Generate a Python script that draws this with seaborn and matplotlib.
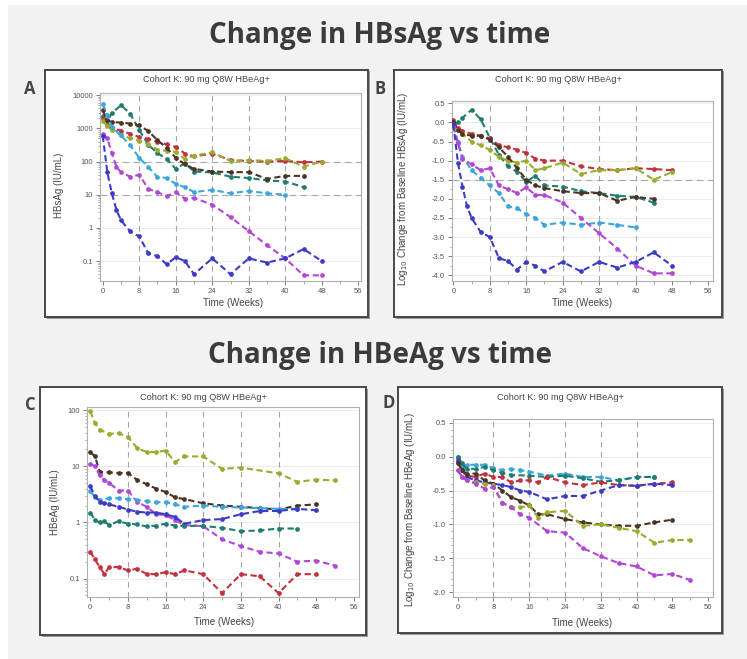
import numpy as np
import pandas as pd
import matplotlib
matplotlib.use("Agg")
import matplotlib.pyplot as plt
import seaborn as sns
from matplotlib.patches import Rectangle
from matplotlib.ticker import FixedLocator, MultipleLocator, LogLocator, NullFormatter

# ---------------- data ----------------
WEEK_TICKS = [0, 8, 16, 24, 32, 40, 48, 56]
REF_WEEKS = [8, 16, 24, 32, 40]
PANEL_TITLE = "Cohort K: 90 mg Q8W HBeAg+"

COLORS = {
    "teal": "#1e7d6c", "red": "#c2313d", "olive": "#9aab2e", "brown": "#4b3424",
    "cyan": "#3ba6dc", "magenta": "#b246d6", "blue": "#3b3bc6",
}

# Panel A: HBsAg (IU/mL)
A_TEAL_W = [0, 1, 2, 4, 6, 8, 10, 12, 14, 16, 18, 20, 24, 28, 32, 36, 40, 44]
A_TEAL = [2300, 1700, 2900, 5000, 2800, 900, 320, 180, 120, 60, 90, 50, 47, 35, 32, 27, 25, 17]
A_RED_W = [0, 1, 2, 4, 6, 8, 10, 12, 14, 16, 18, 20, 24, 28, 32, 36, 40, 44, 48]
A_RED = [2100, 1250, 1000, 860, 690, 550, 490, 390, 330, 275, 175, 144, 175, 110, 104, 100, 105, 95, 100]
A_OLIVE_W = [0, 1, 2, 4, 6, 8, 10, 12, 14, 16, 18, 20, 24, 28, 32, 36, 40, 44, 48]
A_OLIVE = [1700, 1200, 900, 620, 510, 420, 330, 230, 210, 195, 120, 150, 190, 105, 110, 105, 125, 70, 100]
A_BROWN_W = [0, 1, 2, 4, 6, 8, 10, 12, 14, 16, 18, 20, 24, 28, 32, 36, 40, 44]
A_BROWN = [3500, 1750, 1550, 1500, 1400, 1240, 830, 440, 260, 130, 83, 60, 50, 48, 48, 30, 37, 37]
A_CYAN_W = [0, 1, 2, 4, 6, 8, 10, 12, 14, 16, 18, 20, 24, 28, 32, 36, 40]
A_CYAN = [5500, 2500, 1100, 620, 310, 130, 68, 34, 32, 21, 17, 12, 14, 11, 13, 11, 10]
A_MAGENTA_W = [0, 1, 2, 3, 4, 6, 8, 10, 12, 14, 16, 18, 20, 24, 28, 32, 36, 40, 44, 48]
A_MAGENTA = [690, 500, 180, 70, 48, 35, 40, 15, 12, 9, 12, 7.5, 8, 5, 2.1, 0.8, 0.3, 0.12, 0.037, 0.037]
A_BLUE_W = [0, 1, 2, 3, 4, 6, 8, 10, 12, 14, 16, 18, 20, 24, 28, 32, 36, 40, 44, 48]
A_BLUE = [600, 48, 11, 3.5, 1.7, 0.78, 0.55, 0.17, 0.14, 0.08, 0.13, 0.1, 0.04, 0.12, 0.04, 0.12, 0.09, 0.12, 0.23, 0.1]

# Panel B: log10 change from baseline HBsAg
B_TEAL_W = [0, 1, 2, 4, 6, 8, 10, 12, 14, 16, 18, 20, 24, 28, 32, 36, 40, 44]
B_TEAL = [-0.05, 0.0, 0.12, 0.33, 0.08, -0.4, -0.85, -1.15, -1.3, -1.55, -1.4, -1.65, -1.68, -1.8, -1.85, -1.92, -1.95, -2.1]
B_RED_W = [0, 1, 2, 4, 6, 8, 10, 12, 14, 16, 18, 20, 24, 28, 32, 36, 40, 44, 48]
B_RED = [0.05, -0.15, -0.22, -0.3, -0.35, -0.42, -0.6, -0.65, -0.72, -0.8, -0.95, -1.0, -1.0, -1.15, -1.22, -1.25, -1.2, -1.22, -1.25]
B_OLIVE_W = [0, 1, 2, 4, 6, 8, 10, 12, 14, 16, 18, 20, 24, 28, 32, 36, 40, 44, 48]
B_OLIVE = [-0.1, -0.2, -0.3, -0.5, -0.6, -0.72, -0.9, -1.0, -1.05, -1.0, -1.25, -1.2, -1.05, -1.35, -1.25, -1.25, -1.2, -1.5, -1.3]
B_BROWN_W = [0, 1, 2, 4, 6, 8, 10, 12, 14, 16, 18, 20, 24, 28, 32, 36, 40, 44]
B_BROWN = [0.0, -0.2, -0.3, -0.35, -0.35, -0.45, -0.65, -0.9, -1.2, -1.5, -1.65, -1.72, -1.8, -1.85, -1.85, -2.05, -1.95, -2.0]
B_CYAN_W = [0, 1, 2, 4, 6, 8, 10, 12, 14, 16, 18, 20, 24, 28, 32, 36, 40]
B_CYAN = [-0.1, -0.5, -0.9, -1.25, -1.45, -1.65, -1.85, -2.2, -2.25, -2.4, -2.5, -2.68, -2.62, -2.68, -2.62, -2.68, -2.75]
B_MAGENTA_W = [0, 1, 2, 4, 6, 8, 10, 12, 14, 16, 18, 20, 24, 28, 32, 36, 40, 44, 48]
B_MAGENTA = [-0.1, -0.55, -0.95, -1.1, -1.25, -1.2, -1.65, -1.75, -1.85, -1.7, -1.9, -1.9, -2.1, -2.5, -2.9, -3.3, -3.75, -3.95, -3.95]
B_BLUE_W = [0, 1, 2, 3, 4, 6, 8, 10, 12, 14, 16, 18, 20, 24, 28, 32, 36, 40, 44, 48]
B_BLUE = [-0.05, -1.05, -1.68, -2.2, -2.5, -2.87, -3.0, -3.55, -3.63, -3.85, -3.65, -3.75, -3.9, -3.65, -3.9, -3.65, -3.8, -3.65, -3.4, -3.75]

# Panel C: HBeAg (IU/mL)
C_OLIVE_W = [0, 1, 2, 4, 6, 8, 10, 12, 14, 16, 18, 20, 24, 28, 32, 40, 44, 48, 52]
C_OLIVE = [95, 58, 45, 38, 39, 33, 21, 18, 18, 19, 12, 15, 15, 9, 9.5, 7.5, 5.3, 5.8, 5.6]
C_BROWN_W = [0, 1, 2, 4, 6, 8, 10, 12, 14, 16, 18, 20, 24, 28, 32, 36, 40, 44, 48]
C_BROWN = [18, 15, 8, 7.8, 7.6, 7.6, 5.7, 4.8, 4.0, 3.5, 2.8, 2.6, 2.2, 2.0, 1.9, 1.8, 1.7, 2.0, 2.1]
C_MAGENTA_W = [0, 1, 2, 3, 4, 6, 8, 10, 12, 14, 16, 18, 20, 24, 28, 32, 36, 40, 44, 48, 52]
C_MAGENTA = [11, 10, 6.9, 5.6, 5.1, 3.7, 3.7, 2.3, 1.9, 1.4, 1.35, 1.1, 0.9, 0.86, 0.5, 0.38, 0.3, 0.28, 0.2, 0.21, 0.17]
C_CYAN_W = [0, 1, 2, 4, 6, 8, 10, 12, 14, 16, 18, 20, 24, 28, 32, 36, 40, 44]
C_CYAN = [3.7, 2.8, 2.5, 2.7, 2.7, 2.6, 2.5, 2.4, 2.3, 2.3, 2.1, 1.9, 2.0, 1.9, 1.85, 1.8, 1.75, 1.75]
C_BLUE_W = [0, 1, 2, 3, 4, 6, 8, 10, 12, 14, 16, 18, 20, 24, 28, 32, 36, 40, 44, 48]
C_BLUE = [4.4, 3.0, 2.3, 2.2, 2.1, 1.9, 1.7, 1.55, 1.5, 1.5, 1.4, 1.25, 0.95, 1.1, 1.15, 1.4, 1.6, 1.6, 1.75, 1.65]
C_TEAL_W = [0, 1, 2, 3, 4, 6, 8, 10, 12, 14, 16, 18, 20, 24, 28, 32, 36, 40, 44]
C_TEAL = [1.5, 1.1, 1.0, 1.05, 0.9, 1.05, 0.95, 0.92, 0.85, 0.88, 0.95, 0.88, 0.87, 0.87, 0.8, 0.7, 0.72, 0.78, 0.78]
C_RED_W = [0, 1, 2, 3, 4, 6, 8, 10, 12, 14, 16, 18, 20, 24, 28, 32, 36, 40, 44, 48]
C_RED = [0.3, 0.22, 0.16, 0.12, 0.16, 0.16, 0.14, 0.15, 0.12, 0.12, 0.13, 0.12, 0.14, 0.12, 0.055, 0.12, 0.11, 0.055, 0.12, 0.12]

# Panel D: log10 change from baseline HBeAg
D_CYAN_W = [0, 1, 2, 4, 6, 8, 10, 12, 14, 16, 20, 24, 28, 32, 36, 40, 44]
D_CYAN = [0.0, -0.15, -0.12, -0.12, -0.12, -0.17, -0.2, -0.18, -0.2, -0.22, -0.28, -0.25, -0.3, -0.3, -0.35, -0.3, -0.3]
D_TEAL_W = [0, 1, 2, 4, 6, 8, 10, 12, 16, 20, 24, 28, 32, 36, 40, 44]
D_TEAL = [0.0, -0.1, -0.18, -0.18, -0.15, -0.2, -0.24, -0.27, -0.28, -0.3, -0.28, -0.32, -0.37, -0.35, -0.3, -0.3]
D_RED_W = [0, 1, 2, 4, 6, 8, 10, 12, 14, 16, 18, 20, 24, 28, 32, 36, 40, 44, 48]
D_RED = [-0.08, -0.2, -0.28, -0.3, -0.25, -0.3, -0.3, -0.38, -0.35, -0.35, -0.38, -0.3, -0.38, -0.42, -0.38, -0.42, -0.43, -0.4, -0.38]
D_BLUE_W = [0, 1, 2, 4, 6, 8, 10, 12, 14, 16, 20, 24, 28, 32, 36, 40, 44, 48]
D_BLUE = [-0.05, -0.2, -0.3, -0.35, -0.38, -0.4, -0.42, -0.45, -0.5, -0.52, -0.63, -0.58, -0.58, -0.5, -0.42, -0.43, -0.4, -0.42]
D_BROWN_W = [0, 1, 2, 4, 6, 8, 10, 12, 14, 16, 18, 20, 24, 28, 32, 36, 40, 44, 48]
D_BROWN = [-0.1, -0.2, -0.25, -0.25, -0.35, -0.4, -0.5, -0.6, -0.65, -0.72, -0.85, -0.85, -0.92, -0.97, -1.0, -1.02, -1.02, -0.97, -0.93]
D_OLIVE_W = [0, 1, 2, 4, 6, 8, 10, 12, 14, 16, 18, 20, 24, 28, 32, 36, 40, 44, 48, 52]
D_OLIVE = [-0.2, -0.3, -0.35, -0.38, -0.4, -0.42, -0.68, -0.75, -0.75, -0.72, -0.9, -0.82, -0.8, -1.02, -1.0, -1.05, -1.1, -1.27, -1.23, -1.23]
D_MAGENTA_W = [0, 1, 2, 4, 6, 8, 10, 12, 14, 16, 20, 24, 28, 32, 36, 40, 44, 48, 52]
D_MAGENTA = [-0.2, -0.3, -0.35, -0.4, -0.47, -0.45, -0.68, -0.75, -0.85, -0.9, -1.1, -1.12, -1.35, -1.47, -1.57, -1.62, -1.75, -1.73, -1.82]

# ---------------- figure ----------------
sns.set_theme(style="ticks")
plt.rcParams['font.family'] = ['Liberation Sans', 'DejaVu Sans']

W, H = 747, 659
fig = plt.figure(figsize=(W / 100, H / 100), dpi=100)
fig.patch.set_facecolor('white')
fig.patches.append(Rectangle((8 / W, 0), 1, 1 - 5 / H, transform=fig.transFigure,
                             facecolor='#f2f2f2', edgecolor='none', zorder=-10))


def box(x0, y0, x1, y1):
    fig.patches.append(Rectangle((x0 / W + 1.5 / W, 1 - y1 / H - 1.5 / H), (x1 - x0) / W, (y1 - y0) / H,
                                 transform=fig.transFigure, facecolor='#9a9a9a',
                                 edgecolor='none', zorder=-6))
    fig.patches.append(Rectangle((x0 / W, 1 - y1 / H), (x1 - x0) / W, (y1 - y0) / H,
                                 transform=fig.transFigure, facecolor='white',
                                 edgecolor='#474747', lw=1.4, zorder=-5))


def axes_px(l, t, r, b):
    return fig.add_axes([l / W, 1 - b / H, (r - l) / W, (b - t) / H])


def ftext(x, y, s, **kw):
    fig.text(x / W, 1 - y / H, s, **kw)


def draw(ax, series, xlim):
    for wk, val, col in series:
        df = pd.DataFrame({"Week": wk, "Value": val})
        sns.lineplot(data=df, x="Week", y="Value", ax=ax, color=col, marker="o",
                     markersize=3.4, markeredgewidth=0, linestyle=(0, (3.0, 1.7)),
                     lw=1.5, sort=False, zorder=4, legend=False)
    for w in REF_WEEKS:
        ax.axvline(w, color='#a5a5a5', lw=0.8, ls=(0, (5, 4)), zorder=1)
    ax.set_xlim(*xlim)
    ax.xaxis.set_major_locator(FixedLocator(WEEK_TICKS))
    ax.xaxis.set_minor_locator(MultipleLocator(4))
    ax.set_xlabel("")
    ax.set_ylabel("")
    ax.tick_params(which='major', labelsize=5.5, colors='#666666', labelcolor='#555555',
                   length=3, width=0.6, pad=2)
    ax.tick_params(which='minor', length=1.8, width=0.5, colors='#888888')
    for s in ax.spines.values():
        s.set_visible(True)
        s.set_color('#b0b0b0')
        s.set_linewidth(0.8)
    ax.set_facecolor('white')


LOG_TICKS_A = [0.1, 1, 10, 100, 1000, 10000]
LOG_LABELS_A = ["0.1", "1", "10", "100", "1000", "10000"]
LOG_TICKS_C = [0.1, 1, 10, 100]
LOG_LABELS_C = ["0.1", "1", "10", "100"]
LIN_TICKS_B = [0.5, 0.0, -0.5, -1.0, -1.5, -2.0, -2.5, -3.0, -3.5, -4.0]
LIN_TICKS_D = [0.5, 0.0, -0.5, -1.0, -1.5, -2.0]

# main titles
title_kw = dict(ha='center', va='center', fontsize=20, fontweight='bold', color='#3b3b3b',
                family=['Open Sans', 'DejaVu Sans'])
ftext(380, 36, "Change in HBsAg vs time", **title_kw)
ftext(380, 356, "Change in HBeAg vs time", **title_kw)

letter_kw = dict(ha='center', va='center', fontsize=12, fontweight='bold', color='#444444',
                 family=['Open Sans', 'DejaVu Sans'])
sub_kw = dict(ha='center', va='center', fontsize=6.6, color='#444444')
lab_kw = dict(ha='center', va='center', fontsize=7, color='#444444')

# ---- Panel A ----
box(45, 70, 368, 317)
ftext(30, 89, "A", **letter_kw)
ftext(206, 79, PANEL_TITLE, **sub_kw)
axA = axes_px(100, 93, 361, 281)
draw(axA, [(A_TEAL_W, A_TEAL, COLORS["teal"]), (A_RED_W, A_RED, COLORS["red"]),
           (A_OLIVE_W, A_OLIVE, COLORS["olive"]), (A_BROWN_W, A_BROWN, COLORS["brown"]),
           (A_CYAN_W, A_CYAN, COLORS["cyan"]), (A_MAGENTA_W, A_MAGENTA, COLORS["magenta"]),
           (A_BLUE_W, A_BLUE, COLORS["blue"])], (-0.6, 56.6))
axA.set_yscale('log')
axA.set_ylim(0.025, 11700)
axA.yaxis.set_major_locator(FixedLocator(LOG_TICKS_A))
axA.set_yticklabels(LOG_LABELS_A)
axA.yaxis.set_minor_locator(LogLocator(base=10, subs=np.arange(2, 10)))
axA.yaxis.set_minor_formatter(NullFormatter())
for v in LOG_TICKS_A:
    axA.axhline(v, color='#ececec', lw=0.7, zorder=0)
for v in [100, 10]:
    axA.axhline(v, color='#a8a8a8', lw=0.8, ls=(0, (6, 4)), zorder=1)
ftext(59, 185, "HBsAg (IU/mL)", rotation=90, **lab_kw)
ftext(233, 303, "Time (Weeks)", **lab_kw)

# ---- Panel B ----
box(394, 70, 722, 317)
ftext(380, 89, "B", **letter_kw)
ftext(558, 79, PANEL_TITLE, **sub_kw)
axB = axes_px(452, 101, 713, 281)
draw(axB, [(B_TEAL_W, B_TEAL, COLORS["teal"]), (B_RED_W, B_RED, COLORS["red"]),
           (B_OLIVE_W, B_OLIVE, COLORS["olive"]), (B_BROWN_W, B_BROWN, COLORS["brown"]),
           (B_CYAN_W, B_CYAN, COLORS["cyan"]), (B_MAGENTA_W, B_MAGENTA, COLORS["magenta"]),
           (B_BLUE_W, B_BLUE, COLORS["blue"])], (-0.3, 57.0))
axB.set_ylim(-4.15, 0.56)
axB.yaxis.set_major_locator(FixedLocator(LIN_TICKS_B))
axB.set_yticklabels([f"{v:.1f}" for v in LIN_TICKS_B])
axB.yaxis.set_minor_locator(MultipleLocator(0.25))
for v in LIN_TICKS_B:
    axB.axhline(v, color='#ececec', lw=0.7, zorder=0)
axB.axhline(-1.5, color='#a8a8a8', lw=0.8, ls=(0, (6, 4)), zorder=1)
ftext(403, 189, "Log$_{10}$ Change from Baseline HBsAg (IU/mL)", rotation=90, **lab_kw)
ftext(582, 303, "Time (Weeks)", **lab_kw)

# ---- Panel C ----
box(40, 387, 366, 635)
ftext(30, 405, "C", **letter_kw)
ftext(203, 398, PANEL_TITLE, **sub_kw)
axC = axes_px(87, 407, 359, 597)
draw(axC, [(C_OLIVE_W, C_OLIVE, COLORS["olive"]), (C_BROWN_W, C_BROWN, COLORS["brown"]),
           (C_MAGENTA_W, C_MAGENTA, COLORS["magenta"]), (C_CYAN_W, C_CYAN, COLORS["cyan"]),
           (C_BLUE_W, C_BLUE, COLORS["blue"]), (C_TEAL_W, C_TEAL, COLORS["teal"]),
           (C_RED_W, C_RED, COLORS["red"])], (-0.7, 57.1))
axC.set_yscale('log')
axC.set_ylim(0.047, 114)
axC.yaxis.set_major_locator(FixedLocator(LOG_TICKS_C))
axC.set_yticklabels(LOG_LABELS_C)
axC.yaxis.set_minor_locator(LogLocator(base=10, subs=np.arange(2, 10)))
axC.yaxis.set_minor_formatter(NullFormatter())
for v in LOG_TICKS_C:
    axC.axhline(v, color='#ececec', lw=0.7, zorder=0)
ftext(55, 502, "HBeAg (IU/mL)", rotation=90, **lab_kw)
ftext(224, 622, "Time (Weeks)", **lab_kw)

# ---- Panel D ----
box(398, 387, 722, 633)
ftext(389, 403, "D", **letter_kw)
ftext(560, 398, PANEL_TITLE, **sub_kw)
axD = axes_px(453, 419, 713, 597)
draw(axD, [(D_CYAN_W, D_CYAN, COLORS["cyan"]), (D_TEAL_W, D_TEAL, COLORS["teal"]),
           (D_RED_W, D_RED, COLORS["red"]), (D_BLUE_W, D_BLUE, COLORS["blue"]),
           (D_BROWN_W, D_BROWN, COLORS["brown"]), (D_OLIVE_W, D_OLIVE, COLORS["olive"]),
           (D_MAGENTA_W, D_MAGENTA, COLORS["magenta"])], (-1.05, 57.1))
axD.set_ylim(-2.07, 0.555)
axD.yaxis.set_major_locator(FixedLocator(LIN_TICKS_D))
axD.set_yticklabels([f"{v:.1f}" for v in LIN_TICKS_D])
axD.yaxis.set_minor_locator(MultipleLocator(0.1))
for v in LIN_TICKS_D:
    axD.axhline(v, color='#ececec', lw=0.7, zorder=0)
ftext(410, 510, "Log$_{10}$ Change from Baseline HBeAg (IU/mL)", rotation=90, **lab_kw)
ftext(582, 623, "Time (Weeks)", **lab_kw)

fig.savefig("out.png", dpi=100, facecolor=fig.get_facecolor())
